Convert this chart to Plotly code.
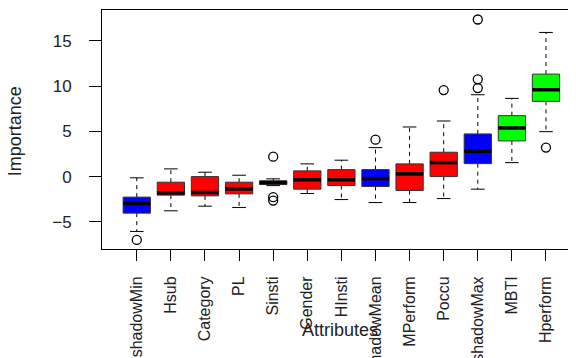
import plotly.graph_objects as go

categories = ["shadowMin", "Hsub", "Category", "PL", "Sinsti", "Gender", "HInsti",
              "shadowMean", "MPerform", "Poccu", "shadowMax", "MBTI", "Hperform"]
whisker_low = [-6.06, -3.78, -3.27, -3.42, -1.00, -1.87, -2.54, -2.87, -2.87, -2.43, -1.39, 1.54, 4.96]
q1 = [-4.04, -2.05, -2.13, -1.91, -0.88, -1.39, -0.99, -1.10, -1.54, 0.00, 1.43, 3.94, 8.31]
median = [-2.97, -1.80, -1.76, -1.36, -0.66, -0.36, -0.36, -0.22, 0.30, 1.54, 2.80, 5.37, 9.59]
q3 = [-2.27, -0.62, 0.00, -0.62, -0.47, 0.63, 0.77, 0.77, 1.40, 2.69, 4.71, 6.73, 11.32]
whisker_high = [-0.14, 0.85, 0.48, 0.15, -0.25, 1.40, 1.81, 3.20, 5.48, 6.14, 9.04, 8.64, 15.92]
outliers = [[-7.0], [], [], [], [2.2, -2.27, -2.65], [], [], [4.08], [], [9.56],
            [17.35, 10.74, 9.78], [], [3.2]]
colors = ["#0000FF", "#FF0000", "#FF0000", "#FF0000", "#FF0000", "#FF0000", "#FF0000",
          "#0000FF", "#FF0000", "#FF0000", "#0000FF", "#00FF00", "#00FF00"]
y_ticks = [-5, 0, 5, 10, 15]

half_box = 0.4
half_cap = 0.2

fig = go.Figure()
positions = list(range(1, len(categories) + 1))

# whiskers (dashed)
wx, wy = [], []
cx, cy = [], []
for i, p in enumerate(positions):
    wx += [p, p, None, p, p, None]
    wy += [q3[i], whisker_high[i], None, q1[i], whisker_low[i], None]
    cx += [p - half_cap, p + half_cap, None, p - half_cap, p + half_cap, None]
    cy += [whisker_high[i], whisker_high[i], None, whisker_low[i], whisker_low[i], None]
fig.add_trace(go.Scatter(x=wx, y=wy, mode="lines", line=dict(color="black", width=1, dash="4px,4px"),
                         hoverinfo="skip", showlegend=False))
fig.add_trace(go.Scatter(x=cx, y=cy, mode="lines", line=dict(color="black", width=1),
                         hoverinfo="skip", showlegend=False))

# boxes
for i, p in enumerate(positions):
    fig.add_trace(go.Scatter(
        x=[p - half_box, p + half_box, p + half_box, p - half_box, p - half_box],
        y=[q1[i], q1[i], q3[i], q3[i], q1[i]],
        mode="lines", fill="toself", fillcolor=colors[i],
        line=dict(color="#333333", width=1), showlegend=False, name=categories[i]))

# medians
mx, my = [], []
for i, p in enumerate(positions):
    mx += [p - half_box, p + half_box, None]
    my += [median[i], median[i], None]
fig.add_trace(go.Scatter(x=mx, y=my, mode="lines", line=dict(color="black", width=3.5),
                         hoverinfo="skip", showlegend=False))

# outliers
ox, oy = [], []
for i, p in enumerate(positions):
    for v in outliers[i]:
        ox.append(p)
        oy.append(v)
fig.add_trace(go.Scatter(x=ox, y=oy, mode="markers",
                         marker=dict(symbol="circle-open", size=9, color="black", line=dict(width=1.3)),
                         showlegend=False))

font_color = "#222222"
# the page body keeps its default 8px margin, so the figure is 8px smaller
fig.update_layout(
    width=568, height=350,
    margin=dict(l=94, r=0, t=2, b=109),
    plot_bgcolor="white", paper_bgcolor="white",
    font=dict(family="Liberation Sans, Arial, sans-serif", size=16, color=font_color),
    xaxis=dict(range=[-0.02, 13.88], tickmode="array", tickvals=positions, ticktext=categories,
               tickangle=-90, ticks="outside", ticklen=11, tickcolor="black", tickwidth=1,
               showline=True, linecolor="black", linewidth=1, mirror=True, automargin=False,
               showgrid=False, zeroline=False, ticklabelstandoff=9),
    yaxis=dict(range=[-8.0, 18.4], tickvals=y_ticks, ticks="outside", ticklen=12,
               tickcolor="black", tickwidth=1, showline=True, linecolor="black", linewidth=1,
               showgrid=False, zeroline=False, ticklabelstandoff=14, automargin=False,
               tickfont=dict(size=17)),
    annotations=[
        dict(text="Attributes", xref="paper", yref="paper", x=0.503, y=-0.34,
             xanchor="center", yanchor="middle", showarrow=False,
             font=dict(size=18, color=font_color)),
        dict(text="Importance", xref="paper", yref="paper", x=-0.183, y=0.494,
             xanchor="center", yanchor="middle", textangle=-90, showarrow=False,
             font=dict(size=18, color=font_color)),
    ],
)

fig.write_html("out.html")
